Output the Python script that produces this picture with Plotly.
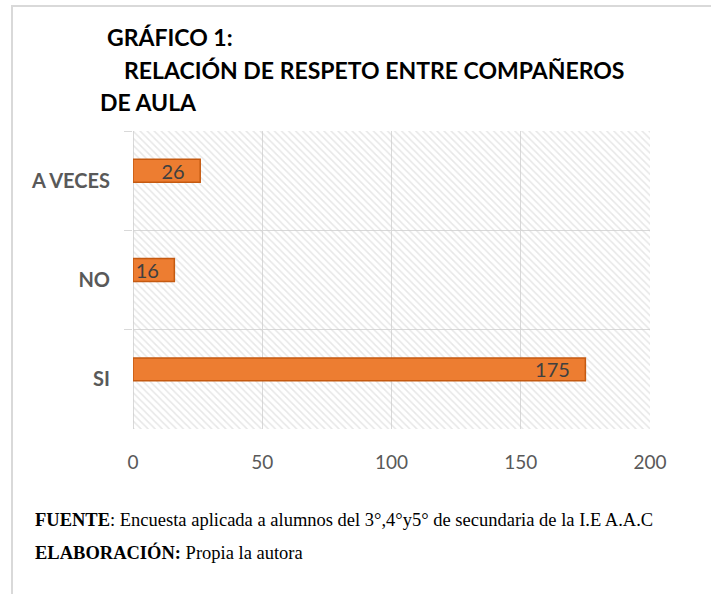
import plotly.graph_objects as go

# data (top to bottom as in the chart)
categorias = ['A VECES', 'NO', 'SI']
respuestas = [26, 16, 175]
x_ticks = [0, 50, 100, 150, 200]

titulo = ['GRÁFICO 1:', 'RELACIÓN DE RESPETO ENTRE COMPAÑEROS', 'DE AULA']
fuente = '<b>FUENTE</b>: Encuesta aplicada a alumnos del 3°,4°y5° de secundaria de la I.E A.A.C'
elaboracion = '<b>ELABORACIÓN:</b> Propia la autora'

W, H = 711, 594
L, R, T, B = 133, 650, 131, 429  # plot area in pixels


def px(x):
    return (x - L) / (R - L)


def py(y):
    return (B - y) / (B - T)


grid = '#d9d9d9'
txt = '#595959'
font_sans = 'Lato'

fig = go.Figure()

# hatched background of the plot area
fig.add_trace(go.Bar(
    y=categorias, x=[x_ticks[-1]] * len(categorias),
    orientation='h', width=1, offset=-0.5,
    marker=dict(color='rgba(0,0,0,0)', line_width=0,
                pattern=dict(shape='\\', fgcolor='#cfcfcf', bgcolor='rgba(0,0,0,0)',
                             size=5, solidity=0.3, fillmode='overlay')),
    hoverinfo='skip', showlegend=False
))

fig.add_trace(go.Bar(
    y=categorias, x=respuestas, orientation='h',
    width=0.231, offset=-0.216,
    marker=dict(color='#ED7D31', line=dict(color='#C55A11', width=1.5)),
    texttemplate='%{x}\u2002\u2009', textposition='inside', insidetextanchor='end', textangle=0,
    textfont=dict(family=font_sans, size=20, color='#404040'),
    constraintext='none', showlegend=False, hoverinfo='x+y'
))

anns = []
for texto, x0, y0 in zip(titulo, [105, 122, 98], [37, 70, 102]):
    anns.append(dict(text='<b>' + texto + '</b>', x=px(x0), y=py(y0),
                     xref='paper', yref='paper', xanchor='left', yanchor='middle',
                     showarrow=False, font=dict(family=font_sans, size=23, color='black')))
for texto, y0 in [(fuente, 520), (elaboracion, 552)]:
    anns.append(dict(text=texto, x=px(33), y=py(y0), xref='paper', yref='paper',
                     xanchor='left', yanchor='middle', showarrow=False,
                     font=dict(family='Liberation Serif', size=18.5, color='black')))

fig.update_layout(
    width=W, height=H,
    margin=dict(l=L, r=W - R, t=T, b=H - B, pad=0),
    paper_bgcolor='white', plot_bgcolor='white',
    barmode='overlay', showlegend=False,
    annotations=anns,
    shapes=[dict(type='rect', xref='paper', yref='paper',
                 x0=px(12), y0=py(620), x1=px(740), y1=py(6),
                 line=dict(color=grid, width=2), layer='below')],
    xaxis=dict(range=[x_ticks[0], x_ticks[-1]], tickvals=x_ticks,
               showgrid=True, gridcolor=grid, gridwidth=1,
               zeroline=True, zerolinecolor=grid, zerolinewidth=1,
               showline=False, ticks='outside', ticklen=16, tickcolor='rgba(0,0,0,0)',
               tickfont=dict(family=font_sans, size=19, color=txt)),
    yaxis=dict(range=[2.5, -0.5], type='category', tickson='boundaries',
               showgrid=True, gridcolor=grid, gridwidth=1,
               ticks='outside', ticklen=8, tickcolor=grid,
               showline=False, ticklabelstandoff=22,
               tickfont=dict(family=font_sans, size=20, color=txt, weight='bold')),
    font=dict(family=font_sans)
)

# the page's default body margin would shift the figure by 8px
fig.write_html('out.html', config={'displayModeBar': False},
               post_script="document.body.style.margin='0';")
